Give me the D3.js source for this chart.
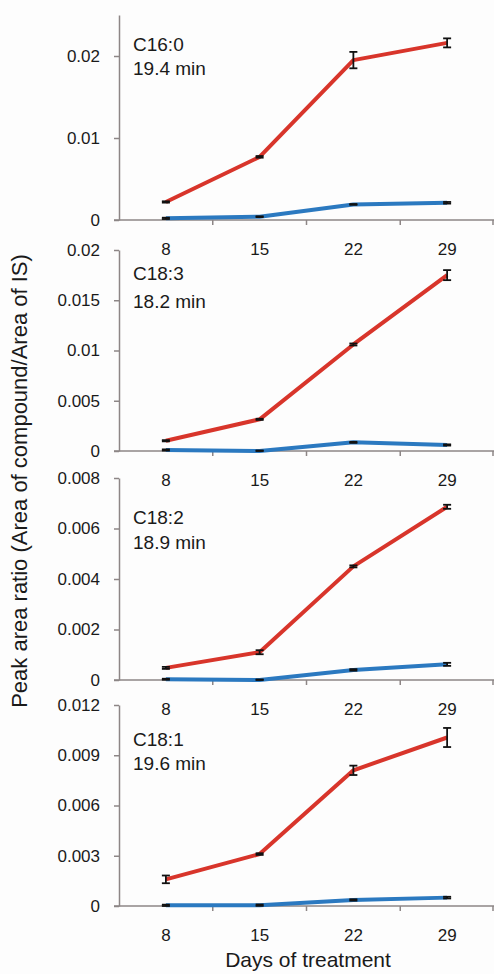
<!DOCTYPE html>
<html>
<head>
<meta charset="utf-8">
<script src="https://cdn.jsdelivr.net/npm/d3@7"></script>
<style>
  body { margin: 0; background: #fdfdfd; }
  svg { display: block; font-family: "Liberation Sans", Arial, sans-serif; }
</style>
</head>
<body>
<div id="container"></div>
<script>
/* DATA */
const days = ["8", "15", "22", "29"];
const compounds = ["C16:0", "C18:3", "C18:2", "C18:1"];
const retention = ["19.4 min", "18.2 min", "18.9 min", "19.6 min"];

const redValues = [
  [0.0022, 0.0077, 0.0195, 0.0216],
  [0.00102, 0.00315, 0.0106, 0.0175],
  [0.00048, 0.0011, 0.0045, 0.00686],
  [0.00159, 0.0031, 0.0081, 0.01006]
];
const redErrors = [
  [0.00008, 0.0001, 0.001, 0.00055],
  [0.00006, 0.00006, 0.0001, 0.0005],
  [0.00004, 0.00008, 0.00004, 0.00008],
  [0.00023, 0.00005, 0.00028, 0.00057]
];
const blueValues = [
  [0.0002, 0.0004, 0.0019, 0.0021],
  [0.0001, 0.0, 0.00086, 0.0006],
  [0.00003, 0.0, 0.0004, 0.00062],
  [0.00004, 0.00005, 0.00036, 0.0005]
];
const blueErrors = [
  [0.00008, 0.00005, 0.00005, 0.0001],
  [0.00006, 0.00005, 0.00005, 0.00006],
  [0.00002, 0.00002, 0.00003, 0.00006],
  [0.00004, 0.00004, 0.00004, 0.00005]
];
const yMax = [0.025, 0.02, 0.008, 0.012];
const yTicks = [
  [0, 0.01, 0.02],
  [0, 0.005, 0.01, 0.015, 0.02],
  [0, 0.002, 0.004, 0.006, 0.008],
  [0, 0.003, 0.006, 0.009, 0.012]
];

/* LAYOUT */
const width = 494, height = 974;
const left = 119, right = 494;
// top of y axis and zero line for each panel
const panels = [
  {top: 15, bottom: 220, label1: 36, label2: 60},
  {top: 250, bottom: 451, label1: 30, label2: 58},
  {top: 478, bottom: 680, label1: 46, label2: 71},
  {top: 705, bottom: 906, label1: 41, label2: 65}
];
const axisColor = "#8d8686",
  red = "#d8352b",
  blue = "#2b79c0";

const svg = d3.select("#container")
  .append("svg")
  .attr("width", width)
  .attr("height", height);

const xScale = d3.scaleBand()
  .domain(days)
  .range([left, right])
  .padding(0);

panels.forEach((p, i) => {
  const g = svg.append("g");

  const yScale = d3.scaleLinear()
    .domain([0, yMax[i]])
    .range([p.bottom, p.top]);

  // y axis
  const yAxis = d3.axisLeft(yScale)
    .tickValues(yTicks[i])
    .tickFormat(d => d === 0 ? "0" : String(d))
    .tickSize(5)
    .tickSizeOuter(0)
    .tickPadding(14);
  const ya = g.append("g")
    .attr("transform", `translate(${left},0)`)
    .call(yAxis);
  ya.selectAll("path, line").attr("stroke", axisColor).attr("stroke-width", 1.5);
  ya.selectAll("text").style("font-size", "17px").attr("fill", "#1a1a1a");

  // x axis: line + boundary ticks
  g.append("line")
    .attr("x1", left - 5).attr("x2", right)
    .attr("y1", p.bottom).attr("y2", p.bottom)
    .attr("stroke", axisColor).attr("stroke-width", 1.5);
  g.selectAll(".xtick")
    .data(days.slice(1).concat(["end"]))
    .join("line")
    .attr("x1", d => d === "end" ? right - 1 : xScale(d))
    .attr("x2", d => d === "end" ? right - 1 : xScale(d))
    .attr("y1", p.bottom)
    .attr("y2", p.bottom + 5)
    .attr("stroke", axisColor).attr("stroke-width", 1.5);

  const xa = g.append("g")
    .attr("transform", `translate(0,${p.bottom})`)
    .call(d3.axisBottom(xScale).tickSize(0).tickPadding(23));
  xa.select(".domain").remove();
  xa.selectAll("text").style("font-size", "17px").attr("fill", "#1a1a1a");

  // series
  const line = d3.line()
    .x((d, j) => xScale(days[j]) + xScale.bandwidth() / 2)
    .y(d => yScale(d));

  [[blueValues[i], blueErrors[i], blue], [redValues[i], redErrors[i], red]].forEach(([vals, errs, color]) => {
    g.append("path")
      .datum(vals)
      .attr("d", line)
      .attr("fill", "none")
      .attr("stroke", color)
      .attr("stroke-width", 4)
      .attr("stroke-linejoin", "round");

    const eb = g.append("g");
    vals.forEach((v, j) => {
      const cx = xScale(days[j]) + xScale.bandwidth() / 2;
      const y1 = yScale(v + errs[j]), y2 = yScale(Math.max(0, v - errs[j]));
      eb.append("line")
        .attr("x1", cx).attr("x2", cx).attr("y1", y1).attr("y2", y2)
        .attr("stroke", "#111").attr("stroke-width", 1.8);
      [y1, y2].forEach(yy => {
        eb.append("line")
          .attr("x1", cx - 4).attr("x2", cx + 4).attr("y1", yy).attr("y2", yy)
          .attr("stroke", "#111").attr("stroke-width", 1.8);
      });
    });
  });

  // compound labels
  g.append("text")
    .attr("x", 133).attr("y", p.top + p.label1)
    .text(compounds[i])
    .style("font-size", "19px").attr("fill", "#1a1a1a");
  g.append("text")
    .attr("x", 133).attr("y", p.top + p.label2)
    .text(retention[i])
    .style("font-size", "19px").attr("fill", "#1a1a1a");
});

// axis titles
svg.append("text")
  .attr("text-anchor", "middle")
  .attr("transform", "translate(27,481) rotate(-90)")
  .text("Peak area ratio (Area of compound/Area of IS)")
  .style("font-size", "22px").attr("fill", "#1a1a1a");

svg.append("text")
  .attr("text-anchor", "middle")
  .attr("x", 308)
  .attr("y", 967)
  .text("Days of treatment")
  .style("font-size", "21px").attr("fill", "#1a1a1a");
</script>
</body>
</html>
